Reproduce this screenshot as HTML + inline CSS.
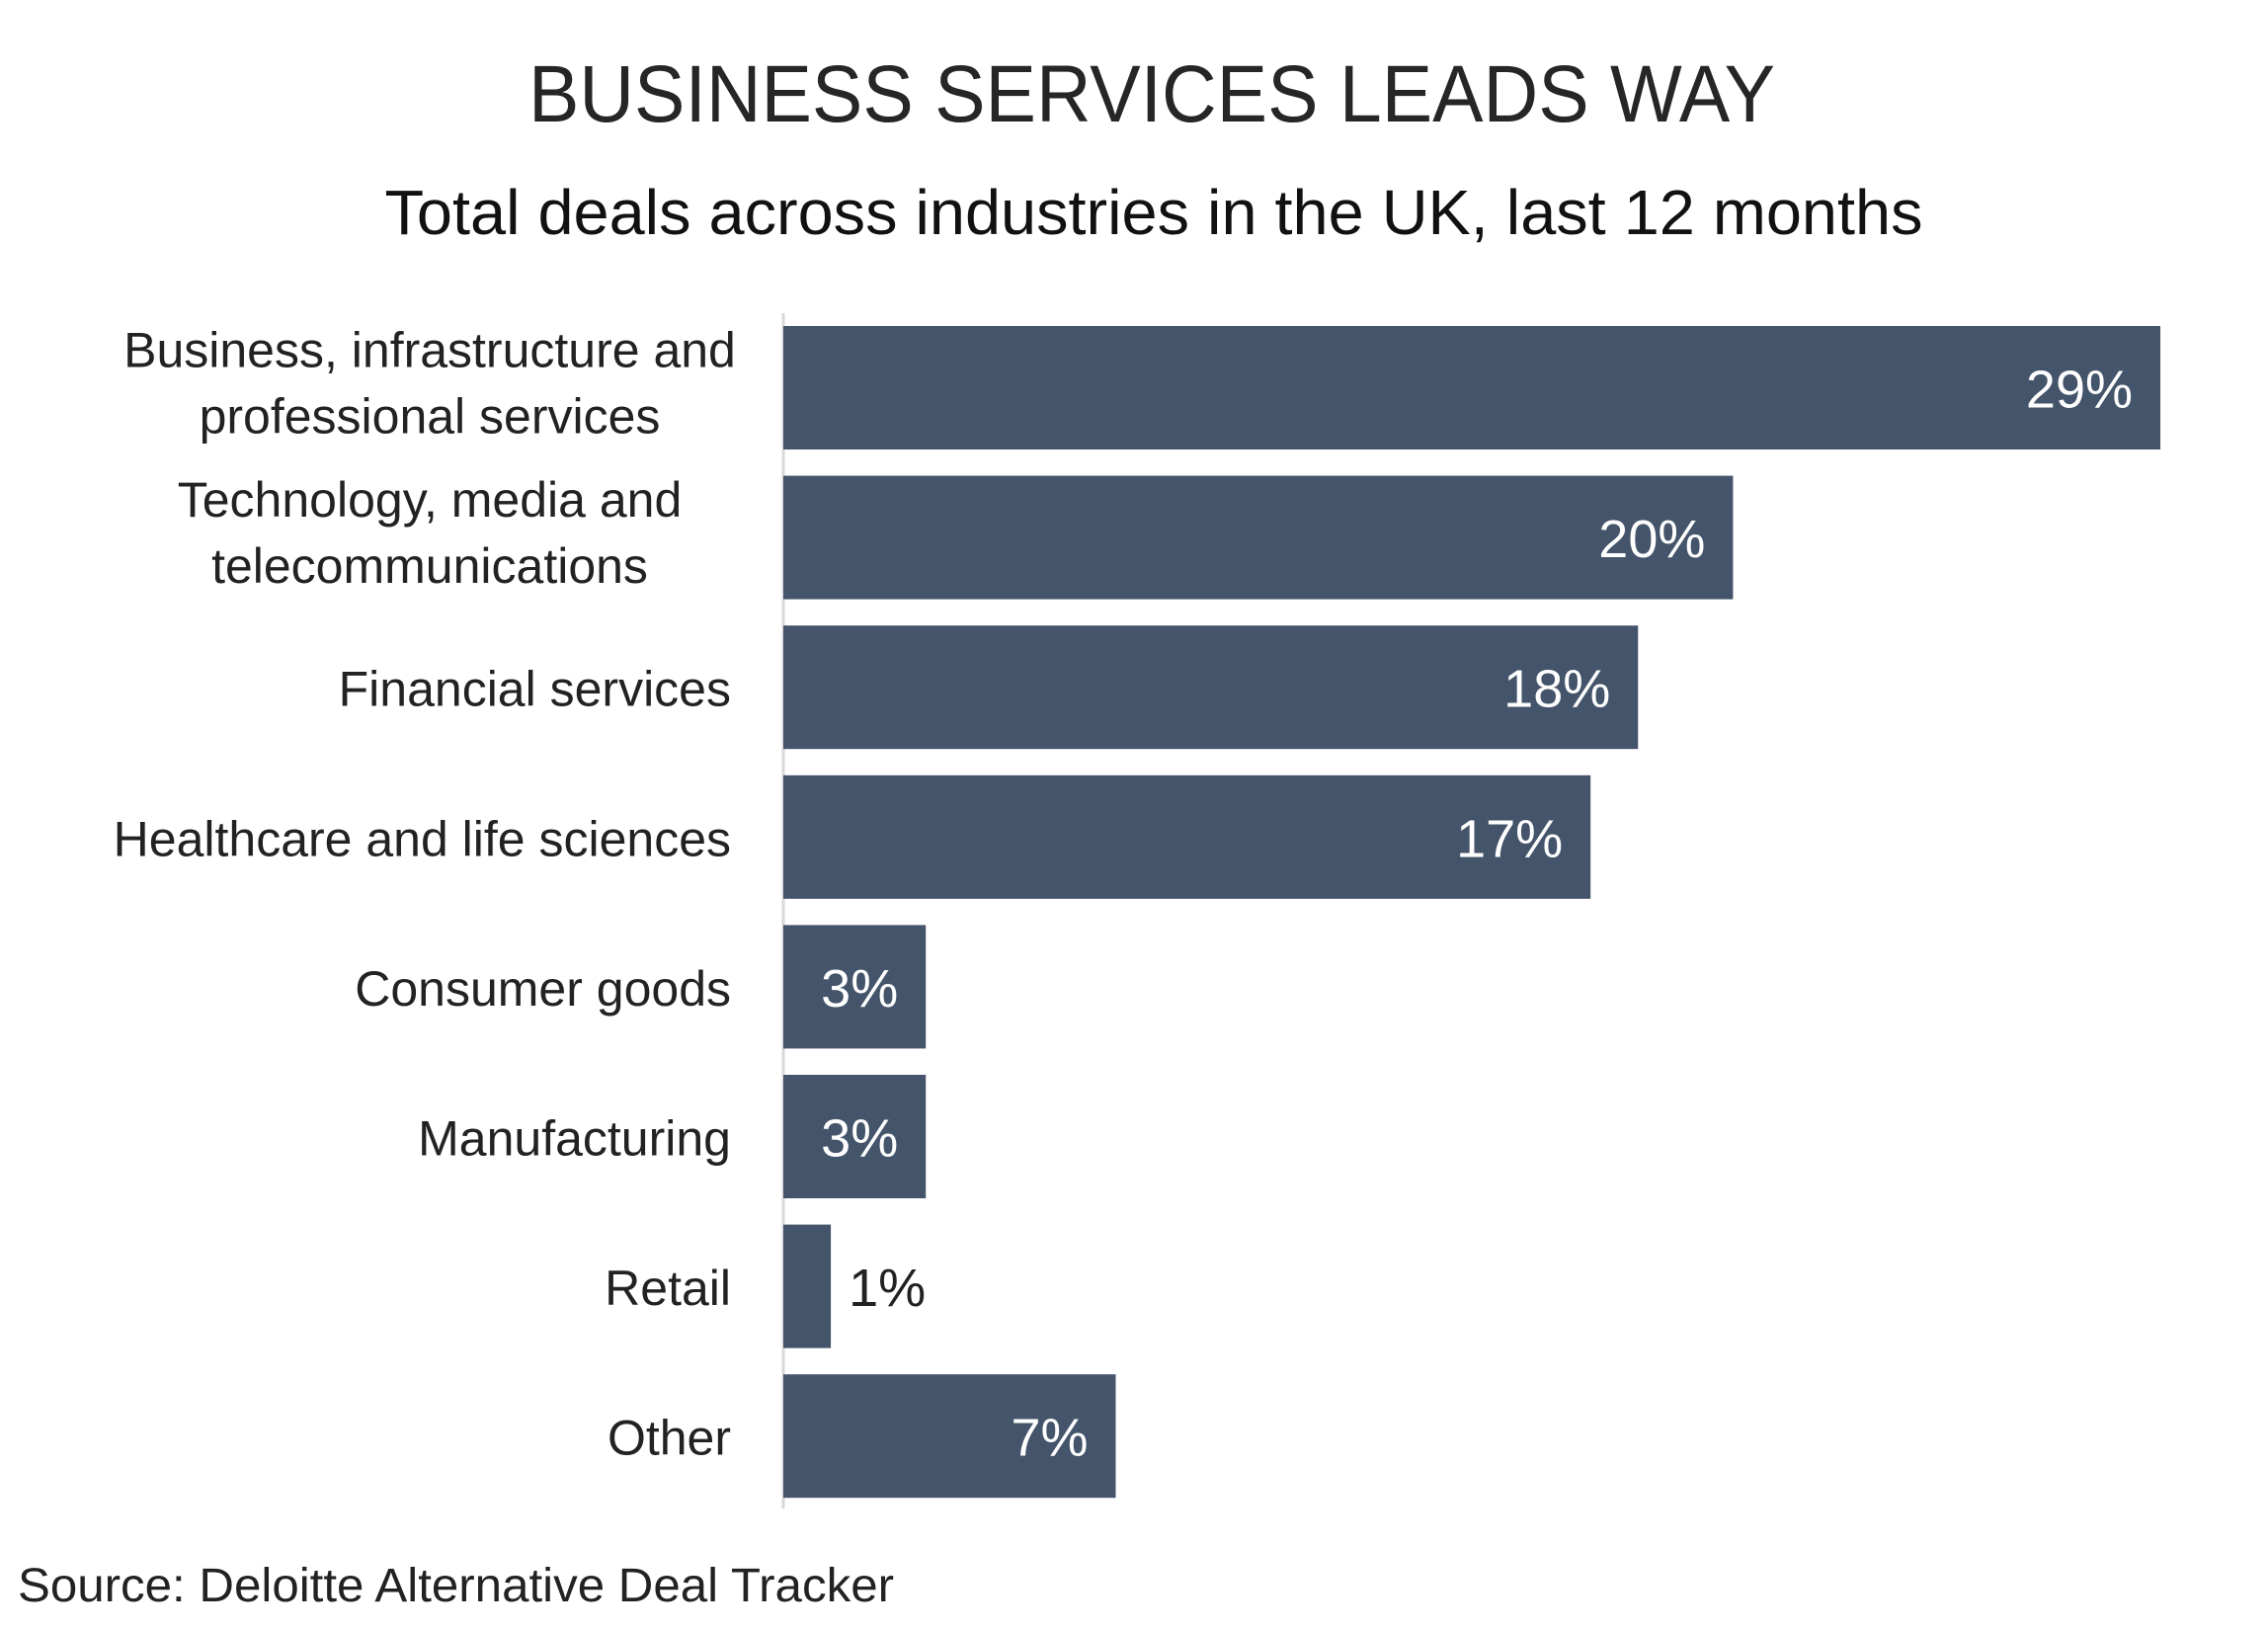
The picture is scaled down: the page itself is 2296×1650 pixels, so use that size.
<!DOCTYPE html>
<html><head><meta charset="utf-8"><style>
html,body{margin:0;padding:0;background:#fff;}
svg{display:block;font-family:"Liberation Sans",sans-serif;}
</style></head><body>
<svg id="chart" width="2296" height="1650" viewBox="0 0 2296 1650" xmlns="http://www.w3.org/2000/svg">
<rect width="2296" height="1650" fill="#fff"/>
<text x="1166" y="123" text-anchor="middle" font-size="82" fill="#262626" textLength="1262" lengthAdjust="spacingAndGlyphs">BUSINESS SERVICES LEADS WAY</text>
<text x="1168" y="237" text-anchor="middle" font-size="64" fill="#111" textLength="1557" lengthAdjust="spacingAndGlyphs">Total deals across industries in the UK, last 12 months</text>
<line x1="793" y1="317" x2="793" y2="1527" stroke="#d9d9d9" stroke-width="3"/>
<g id="bars"></g>
<text x="18" y="1621" font-size="48" fill="#222" textLength="887" lengthAdjust="spacingAndGlyphs">Source: Deloitte Alternative Deal Tracker</text>
</svg>
<script>
const categories = [["Business, infrastructure and","professional services"],["Technology, media and","telecommunications"],["Financial services"],["Healthcare and life sciences"],["Consumer goods"],["Manufacturing"],["Retail"],["Other"]];
const values = [29, 20, 18, 17, 3, 3, 1, 7];
const valueLabels = ["29%","20%","18%","17%","3%","3%","1%","7%"];

const NS = "http://www.w3.org/2000/svg";
const x0 = 793, pxPerUnit = 48.07;
const xScale = v => x0 + v * pxPerUnit;
const yTop = 330, pitch = 151.6, barH = 125;
const yScale = i => yTop + i * pitch;
const g = document.getElementById('bars');
values.forEach((v, i) => {
  const y = yScale(i);
  const cy = y + barH / 2;
  const r = document.createElementNS(NS, 'rect');
  
  
  r.setAttribute('x', x0);
  r.setAttribute('y', y);
  r.setAttribute('width', xScale(v) - x0);
  r.setAttribute('height', barH);
  r.setAttribute('fill', '#44546a');
  g.appendChild(r);

  const t = document.createElementNS(NS, 'text');
  
  
  t.setAttribute('font-size', '54');
  t.setAttribute('y', cy + 20);
  const w = xScale(v) - x0;
  if (w > 100) {
    t.setAttribute('x', xScale(v) - 28);
    t.setAttribute('text-anchor', 'end');
    t.setAttribute('fill', '#fff');
  } else {
    t.setAttribute('x', xScale(v) + 18);
    t.setAttribute('text-anchor', 'start');
    t.setAttribute('fill', '#222');
  }
  t.textContent = valueLabels[i];
  g.appendChild(t);

  const lines = categories[i];
  const lab = document.createElementNS(NS, 'text');
  
  
  lab.setAttribute('font-size', '50');
  lab.setAttribute('fill', '#222');
  lab.setAttribute('text-anchor', lines.length > 1 ? 'middle' : 'end');
  if (lines.length === 1) {
    lab.setAttribute('x', 740);
    lab.setAttribute('y', cy + 19);
    lab.textContent = lines[0];
  } else {
    lines.forEach((ln, k) => {
      const ts = document.createElementNS(NS, 'tspan');
      ts.setAttribute('x', 435);
      ts.setAttribute('y', cy - 21 + k * 67);
      ts.textContent = ln;
      lab.appendChild(ts);
    });
  }
  g.appendChild(lab);
});
</script>
</body></html>
